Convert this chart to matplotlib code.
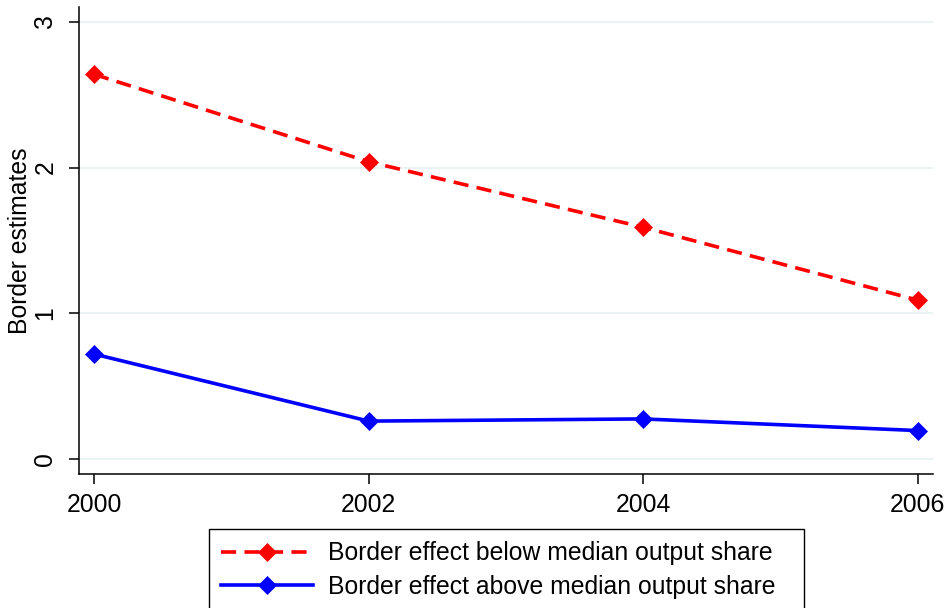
import matplotlib
matplotlib.use("Agg")
import matplotlib.pyplot as plt

years = [2000, 2002, 2004, 2006]
below_median = [2.64, 2.04, 1.59, 1.09]
above_median = [0.72, 0.26, 0.275, 0.195]
label_below = "Border effect below median output share"
label_above = "Border effect above median output share"
yticks = [0, 1, 2, 3]

plt.rcParams["font.family"] = ["Liberation Sans", "DejaVu Sans"]
FS = 17.8

fig = plt.figure(figsize=(9.47, 6.08), dpi=100)
ax = fig.add_axes([79 / 947, 1 - 474 / 608, (933 - 79) / 947, (474 - 7) / 608])

ax.plot(years, below_median, color="#ff0000", lw=2.6, linestyle=(0, (4.2, 2.3)),
        marker="D", markersize=8.7, markeredgewidth=0.5, label=label_below)
ax.plot(years, above_median, color="#0000ff", lw=2.6,
        marker="D", markersize=8.7, markeredgewidth=0.5, label=label_above)

ax.set_xlim(1999.89, 2006.11)
ax.set_ylim(-0.103, 3.102)
ax.set_xticks(years)
ax.set_yticks(yticks)
ax.grid(axis="y", color="#eaf2f3", lw=1.5)
ax.set_axisbelow(True)
for s in ["top", "right"]:
    ax.spines[s].set_visible(False)
for s in ["left", "bottom"]:
    ax.spines[s].set_linewidth(1.1)
ax.tick_params(axis="both", length=7.5, width=1.1, labelsize=FS, pad=6)
ax.tick_params(axis="y", pad=8)
plt.setp(ax.get_yticklabels(), rotation=90, va="center")
ax.set_ylabel("Border estimates", fontsize=FS, labelpad=1)

# legend box sits under the plot, running off the bottom edge like the original
fig.legend(loc="upper left", bbox_to_anchor=(209 / 947, 1 - 529 / 608, 595 / 947, 0),
           mode="expand", borderaxespad=0, fontsize=FS, frameon=True, fancybox=False,
           edgecolor="black", framealpha=1, handlelength=3.7, handletextpad=0.6,
           labelspacing=0.38, borderpad=0.5)

fig.savefig("out.png", dpi=100)
